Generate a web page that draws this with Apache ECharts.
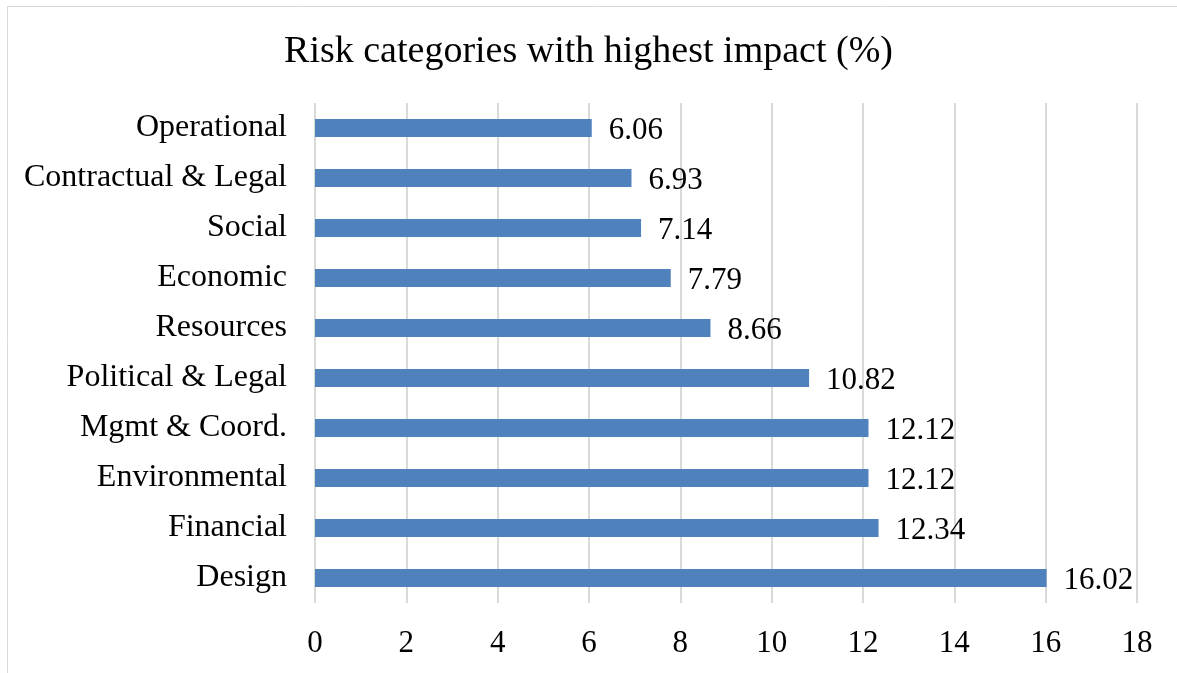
<!DOCTYPE html>
<html>
<head>
<meta charset="utf-8">
<script src="https://cdn.jsdelivr.net/npm/echarts@6/dist/echarts.min.js"></script>
<style>
  html, body { margin: 0; padding: 0; background: #fff; }
  #main { width: 1177px; height: 673px; }
</style>
</head>
<body>
<div id="main"></div>
<script>
// categories, top to bottom
var categories = ['Operational', 'Contractual & Legal', 'Social', 'Economic', 'Resources',
    'Political & Legal', 'Mgmt & Coord.', 'Environmental', 'Financial', 'Design'];
var impact = [6.06, 6.93, 7.14, 7.79, 8.66, 10.82, 12.12, 12.12, 12.34, 16.02];

var serif = '"Liberation Serif", "Times New Roman", serif';

var myChart = echarts.init(document.getElementById('main'));
var option = {
    backgroundColor: '#fff',
    animation: false,
    graphic: [{
        type: 'rect',
        shape: { x: 7.5, y: 6.5, width: 1200, height: 700 },
        style: { fill: 'none', stroke: '#d9d9d9', lineWidth: 1 },
        z: -1
    }],
    title: {
        text: 'Risk categories with highest impact (%)',
        left: 'center',
        top: 28,
        textStyle: { fontFamily: serif, fontSize: 38, fontWeight: 'normal', color: '#000' }
    },
    grid: { left: 315, right: 40, top: 103, bottom: 70 },
    xAxis: {
        type: 'value',
        min: 0,
        max: 18,
        interval: 2,
        axisLine: { show: false },
        axisTick: { show: false },
        axisLabel: { fontFamily: serif, fontSize: 31, color: '#000', margin: 25 },
        splitLine: { lineStyle: { color: '#d9d9d9', width: 2 } }
    },
    yAxis: {
        type: 'category',
        inverse: true,
        data: categories,
        axisLine: { show: false },
        axisTick: { show: false },
        axisLabel: { fontFamily: serif, fontSize: 32, color: '#000', margin: 28, padding: [6, 0, 0, 0] }
    },
    series: [{
        name: 'Impact',
        type: 'bar',
        data: impact,
        barWidth: 18,
        itemStyle: { color: '#4f81bd' },
        label: {
            show: true,
            position: 'right',
            distance: 17,
            offset: [0, 3],
            fontFamily: serif,
            fontSize: 31,
            color: '#000'
        }
    }]
};
option && myChart.setOption(option);
</script>
</body>
</html>
